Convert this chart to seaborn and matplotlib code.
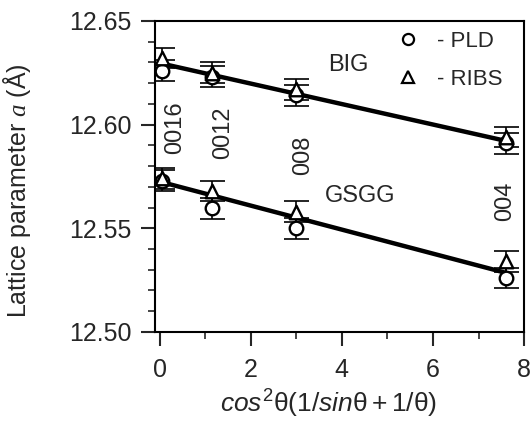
import numpy as np
import pandas as pd
import matplotlib
matplotlib.use("Agg")
import matplotlib.pyplot as plt
from matplotlib.lines import Line2D
from matplotlib.ticker import MultipleLocator, FormatStrFormatter
import seaborn as sns

# ---- data ----
x_pos = [0.05, 1.15, 3.0, 7.6]
big_pld = [12.626, 12.623, 12.614, 12.591]
big_ribs = [12.632, 12.625, 12.617, 12.594]
gsgg_pld = [12.573, 12.5597, 12.550, 12.526]
gsgg_ribs = [12.574, 12.568, 12.558, 12.534]
err = 0.005
big_fit_x = [0.0, 7.6]
big_fit_y = [12.6296, 12.5921]
gsgg_fit_x = [0.0, 7.6]
gsgg_fit_y = [12.5725, 12.5285]
refl_labels = ["0016", "0012", "008", "004"]
refl_x = [0.34, 1.39, 3.15, 7.59]
refl_y = [12.5987, 12.5958, 12.585, 12.563]

sns.set_style("ticks")
plt.rcParams['font.family'] = ['Liberation Sans', 'DejaVu Sans']
plt.rcParams['mathtext.fontset'] = 'custom'
plt.rcParams['mathtext.rm'] = 'Liberation Sans'
plt.rcParams['mathtext.it'] = 'Liberation Sans:italic'
plt.rcParams['mathtext.sf'] = 'Liberation Serif:italic'

rows = []
for sample, pld, ribs in [("BIG", big_pld, big_ribs), ("GSGG", gsgg_pld, gsgg_ribs)]:
    for xi, p, r in zip(x_pos, pld, ribs):
        rows.append(dict(x=xi, a=p, method="PLD", sample=sample))
        rows.append(dict(x=xi, a=r, method="RIBS", sample=sample))
df = pd.DataFrame(rows)

fig = plt.figure(figsize=(5.31, 4.24), dpi=100)
ax = fig.add_axes([0.292, 0.217, 0.695, 0.734])

# fit lines
fits = pd.DataFrame(dict(x=big_fit_x + gsgg_fit_x, a=big_fit_y + gsgg_fit_y,
                         sample=["BIG"] * 2 + ["GSGG"] * 2))
for s, g in fits.groupby("sample"):
    sns.lineplot(data=g, x="x", y="a", ax=ax, color="black", lw=3.2, legend=False)

# error bars
ax.errorbar(df["x"], df["a"], yerr=err, fmt="none", ecolor="black",
            elinewidth=1.2, capsize=9, capthick=1.2, zorder=3)

# markers
for m, mk in [("PLD", "o"), ("RIBS", "^")]:
    d = df[df["method"] == m]
    ax.scatter(d["x"], d["a"], s=95, marker=mk, facecolors="white",
               edgecolors="black", linewidths=1.7, zorder=4)

ax.text(3.7, 12.6286, "BIG", fontsize=17, va="center", ha="left")
ax.text(3.63, 12.5654, "GSGG", fontsize=17, va="center", ha="left")
for lab, xx, yy in zip(refl_labels, refl_x, refl_y):
    ax.text(xx, yy, lab, rotation=90, fontsize=17, ha="center", va="center")

ax.set_xlim(-0.1, 8.0)
ax.set_ylim(12.50, 12.65)
ax.xaxis.set_major_locator(MultipleLocator(2))
ax.xaxis.set_minor_locator(MultipleLocator(1))
ax.yaxis.set_major_locator(MultipleLocator(0.05))
ax.yaxis.set_minor_locator(MultipleLocator(0.01))
ax.yaxis.set_major_formatter(FormatStrFormatter("%.2f"))
ax.tick_params(which="major", direction="out", length=10, width=1.5, labelsize=18)
ax.tick_params(which="minor", direction="out", length=5, width=1.2)
ax.tick_params(axis="y", which="major", pad=7)
ax.tick_params(axis="x", which="major", pad=9)
for sp in ax.spines.values():
    sp.set_visible(True)
    sp.set_linewidth(1.5)
    sp.set_color("black")

ax.set_xlabel(r"$\mathit{cos}^{2}\mathrm{\theta}(1/\mathit{sin}\mathrm{\theta}+1/\mathrm{\theta})$",
              fontsize=19)
ax.set_ylabel(r"Lattice parameter $\mathsf{a}$ (Å)", fontsize=18)
ax.xaxis.set_label_coords(0.47, -0.18)
ax.yaxis.set_label_coords(-0.331, 0.455)

handles = [Line2D([], [], marker="o", ls="none", mfc="white", mec="black", ms=8, mew=1.6),
           Line2D([], [], marker="^", ls="none", mfc="white", mec="black", ms=8, mew=1.6)]
ax.legend(handles, ["- PLD", "- RIBS"], loc="upper right", frameon=False,
          fontsize=16, handlelength=1.0, handletextpad=0.8, labelspacing=0.75,
          borderaxespad=0.0, bbox_to_anchor=(0.965, 0.995))

fig.savefig("out.png", dpi=100)
